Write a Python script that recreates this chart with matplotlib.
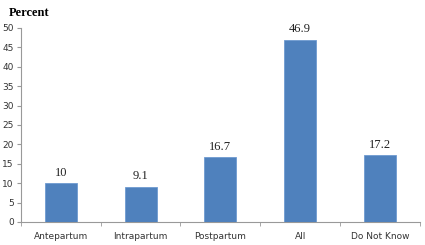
import matplotlib
matplotlib.use("Agg")
import matplotlib.pyplot as plt
import numpy as np

categories = ["Antepartum", "Intrapartum", "Postpartum", "All", "Do Not Know"]
values = [10, 9.1, 16.7, 46.9, 17.2]
value_labels = ["10", "9.1", "16.7", "46.9", "17.2"]
yticks = [0, 5, 10, 15, 20, 25, 30, 35, 40, 45, 50]

fig = plt.figure(figsize=(4.25, 2.45), dpi=100)
ax = fig.add_axes([0.049, 0.094, 0.939, 0.792])
x = np.arange(len(categories))
ax.bar(x, values, width=0.4, color="#4f81bd", edgecolor="#6f9bd1", linewidth=0.6, zorder=3)
for xi, v, lab in zip(x, values, value_labels):
    ax.text(xi, v + 1.2, lab, ha="center", va="bottom", fontsize=9, family="Liberation Serif", color="#222222")

ax.set_xlim(-0.5, len(categories) - 0.5)
ax.set_ylim(0, 50)
ax.set_yticks(yticks)
ax.set_yticklabels([str(t) for t in yticks], fontsize=6.5, family="DejaVu Sans", color="#333333")
ax.set_xticks(x)
ax.set_xticklabels(categories, fontsize=6.5, family="DejaVu Sans", color="#333333")
ax.tick_params(axis="x", which="major", length=0, pad=7)
ax.set_xticks(np.arange(-0.5, len(categories) + 0.5, 1), minor=True)
ax.tick_params(axis="x", which="minor", length=3, color="#999999")
ax.tick_params(axis="y", length=3, color="#999999", pad=2)
for s in ["top", "right"]:
    ax.spines[s].set_visible(False)
for s in ["left", "bottom"]:
    ax.spines[s].set_color("#999999")
    ax.spines[s].set_linewidth(0.8)

fig.text(0.02, 0.97, "Percent", fontsize=9, fontweight="bold", family="Liberation Serif", va="top", ha="left")
fig.savefig("out.png", dpi=100)
